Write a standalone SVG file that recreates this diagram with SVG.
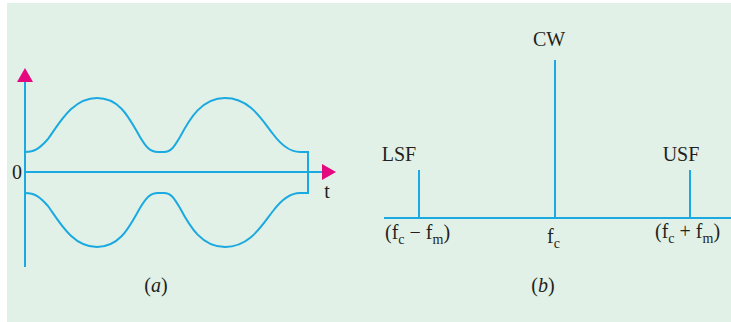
<svg xmlns="http://www.w3.org/2000/svg" width="731" height="322" viewBox="0 0 731 322">
<style>
.ln{stroke:#1AA9E1;stroke-width:2;fill:none}
.ar{fill:#E5097F;stroke:none}
.tx{font-family:"Liberation Serif","Times New Roman",serif;font-size:20px;fill:#231F20}
.sub{font-size:14px}
.it{font-style:italic}
</style>
<rect x="0" y="0" width="731" height="322" fill="#FFFFFF"/>
<rect x="7" y="3" width="724" height="319" fill="#E1F1E7"/>
<g id="panel-a">
  <g id="axes-a">
    <line class="ln" x1="25" y1="80" x2="25" y2="267"/>
    <polygon class="ar" points="17,82 33,82 25,68"/>
    <line class="ln" x1="25" y1="172" x2="324" y2="172"/>
    <polygon class="ar" points="322,164 322,180 336,172"/>
    <text class="tx" x="17" y="179" text-anchor="middle">0</text>
    <text class="tx" x="327" y="198" text-anchor="middle">t</text>
  </g>
  <g id="envelope">
    <path class="ln" d="M25,152 C35,152 40,148 48,139 C60,122 73,98 97,98 C121,98 130,120 140,137 C146,147 150,152 158,152 L164,152 C171,152 174,147 180,137 C190,118 202,98 225,98 C250,98 262,120 273,134 C282,146 290,152 300,152 L308,152 L308,193 L300,193 C290,193 282,199 273,211 C262,225 250,247 225,247 C202,247 190,227 180,208 C174,198 171,193 164,193 L158,193 C150,193 146,198 140,208 C130,225 121,247 97,247 C73,247 60,223 48,206 C40,197 35,193 25,193"/>
  </g>
  <text class="tx" x="156" y="292" text-anchor="middle">(<tspan class="it">a</tspan>)</text>
</g>
<g id="panel-b">
  <g id="connectors">
    <line class="ln" x1="384" y1="218" x2="731" y2="218"/>
    <line class="ln" x1="419" y1="170" x2="419" y2="218"/>
    <line class="ln" x1="555" y1="60" x2="555" y2="218"/>
    <line class="ln" x1="690" y1="170" x2="690" y2="218"/>
  </g>
  <g id="lsf">
    <text class="tx" x="399" y="161" text-anchor="middle">LSF</text>
    <text class="tx" x="385" y="239">(f<tspan class="sub" dy="5">c</tspan><tspan dy="-5"> − f</tspan><tspan class="sub" dy="5">m</tspan><tspan dy="-5">)</tspan></text>
  </g>
  <g id="cw">
    <text class="tx" x="549" y="46" text-anchor="middle">CW</text>
    <text class="tx" x="547" y="243">f<tspan class="sub" dy="5">c</tspan></text>
  </g>
  <g id="usf">
    <text class="tx" x="681" y="161" text-anchor="middle">USF</text>
    <text class="tx" x="655" y="238">(f<tspan class="sub" dy="5">c</tspan><tspan dy="-5"> + f</tspan><tspan class="sub" dy="5">m</tspan><tspan dy="-5">)</tspan></text>
  </g>
  <text class="tx" x="543" y="292" text-anchor="middle">(<tspan class="it">b</tspan>)</text>
</g>
</svg>
